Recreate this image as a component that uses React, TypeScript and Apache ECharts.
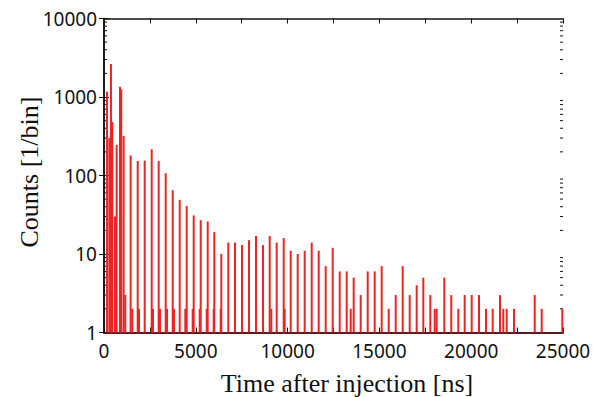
import React, { useEffect, useRef } from "react";
import * as echarts from "echarts";

// Arrival time of each bin [ns] and its count
const mainTimes = [
  165, 290, 380, 450, 600, 690, 870, 940, 1070, 1160, 1450, 1540,
  1836, 2217, 2598, 2979, 3361, 3742, 4123, 4504, 4886, 5267, 5648, 6008,
  6389, 6770, 7135, 7516, 7898, 8279, 8660, 9025, 9406, 9788, 10169, 10550,
  10931, 11313, 11694, 12075, 12456, 12838, 13219, 13600, 13981, 14363, 14744,
  15125, 15507, 15888, 16269, 16650, 17032, 17391, 17772, 18012, 18121, 18535,
  18916, 19297, 19646, 20027, 20425, 20806, 21171, 21569, 21748, 21934, 22331,
  23459, 23840, 24962,
];
const mainCounts = [
  1170, 300, 2630, 480, 30, 245, 1350, 1250, 318, 3, 180, 2,
  153, 155, 216, 153, 107, 65, 49, 41, 31, 27, 26, 19,
  10, 14, 14, 13, 15, 17, 13, 17, 14, 16, 11, 10,
  11, 14, 11, 7, 12, 6, 6, 5, 3, 6, 6,
  7, 2, 3, 7, 3, 4, 5, 3, 2, 2, 5,
  3, 2, 3, 3, 3, 2, 2, 3, 2, 2, 2,
  3, 2, 2,
];
const minorTimes = [1906, 2669, 3050, 3431, 3813, 4428, 4831, 5212, 5594, 5975, 6356, 9112, 9842, 13437];
const minorCounts = [2, 2, 2, 2, 2, 2, 2, 2, 2, 2, 2, 2, 2, 2];

const yMajorTicks = [1, 10, 100, 1000, 10000];
const yMinorTicks = [
  2, 3, 4, 5, 6, 7, 8, 9,
  20, 30, 40, 50, 60, 70, 80, 90,
  200, 300, 400, 500, 600, 700, 800, 900,
  2000, 3000, 4000, 5000, 6000, 7000, 8000, 9000,
];
const xMin = 0;
const xMax = 25000;
const xStep = 5000;

export default function App() {
  const ref = useRef<HTMLDivElement>(null);
  useEffect(() => {
    document.body.style.margin = "0";
    const chart = echarts.init(ref.current!, null, { renderer: "svg" });
    const bars: [number, number][] = [];
    mainTimes.forEach((t, i) => bars.push([t, mainCounts[i]]));
    minorTimes.forEach((t, i) => bars.push([t, minorCounts[i]]));
    bars.sort((a, b) => a[0] - b[0]);

    const tickFont = { fontFamily: "Noto Sans", fontSize: 19, color: "#111" };
    const xCommon = {
      type: "value" as const,
      min: xMin,
      max: xMax,
      interval: xStep,
      splitLine: { show: false },
      axisTick: { show: true, inside: true, length: 5, lineStyle: { color: "#111", width: 1 } },
      minorTick: { show: true, splitNumber: 2, length: 5, lineStyle: { color: "#111", width: 1 } },
    };
    const yCommon = {
      type: "log" as const,
      min: yMajorTicks[0],
      max: yMajorTicks[yMajorTicks.length - 1],
      logBase: 10,
      splitLine: { show: false },
      axisTick: { show: true, inside: true, length: 5, lineStyle: { color: "#111", width: 1 } },
      minorTick: { show: false },
    };

    chart.setOption({
      animation: false,
      grid: { left: 104, top: 18.5, right: 42, bottom: 64.5 },
      xAxis: [
        {
          ...xCommon,
          position: "bottom",
          axisLine: { show: true, onZero: false, lineStyle: { color: "#5a1c1c", width: 2 } },
          axisLabel: { ...tickFont, margin: 9, formatter: (v: number) => String(Math.round(v)) },
        },
        {
          ...xCommon,
          position: "top",
          axisLine: { show: true, onZero: false, lineStyle: { color: "#111", width: 1.5 } },
          axisLabel: { show: false },
        },
      ],
      yAxis: [
        {
          ...yCommon,
          position: "left",
          axisLine: { show: true, lineStyle: { color: "#111", width: 1.5 } },
          axisLabel: { ...tickFont, margin: 7, formatter: (v: number) => String(Math.round(v)) },
        },
        {
          ...yCommon,
          position: "right",
          axisLine: { show: true, lineStyle: { color: "#111", width: 1.5 } },
          axisLabel: { show: false },
        },
      ],
      series: [
        {
          type: "bar",
          xAxisIndex: 0,
          yAxisIndex: 0,
          data: bars,
          barWidth: 2,
          itemStyle: { color: "#ee2424" },
          silent: true,
        },
        {
          type: "custom",
          xAxisIndex: 0,
          yAxisIndex: 0,
          silent: true,
          data: yMinorTicks.map((v) => [xMin, v]),
          renderItem: (params: any, api: any) => {
            const v = api.value(1);
            const l = api.coord([xMin, v]);
            const r = api.coord([xMax, v]);
            const st = { stroke: "#111", lineWidth: 1 };
            return {
              type: "group",
              children: [
                { type: "line", shape: { x1: l[0], y1: l[1], x2: l[0] + 3, y2: l[1] }, style: st },
                { type: "line", shape: { x1: r[0], y1: r[1], x2: r[0] - 3, y2: r[1] }, style: st },
              ],
            };
          },
        },
      ],
      graphic: [
        {
          type: "text",
          x: 347,
          y: 383,
          style: {
            text: "Time after injection [ns]",
            font: "26px 'Liberation Serif'",
            fill: "#111",
            align: "center",
            verticalAlign: "middle",
          },
        },
        {
          type: "text",
          x: 29,
          y: 172,
          rotation: Math.PI / 2,
          style: {
            text: "Counts [1/bin]",
            font: "26px 'Liberation Serif'",
            fill: "#111",
            align: "center",
            verticalAlign: "middle",
          },
        },
      ],
    });
    return () => chart.dispose();
  }, []);
  return <div ref={ref} style={{ width: 605, height: 397 }} />;
}
